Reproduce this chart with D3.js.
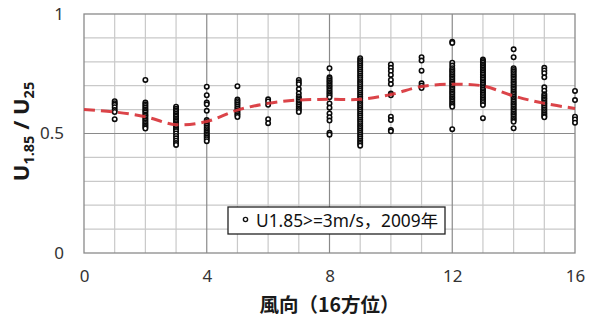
<!DOCTYPE html>
<html>
<head>
<meta charset="utf-8">
<script src="https://cdn.jsdelivr.net/npm/d3@7"></script>
<style>
  html, body { margin: 0; padding: 0; background: #fff; }
  svg { display: block; font-family: "Noto Sans", "Noto Sans CJK JP", sans-serif; }
</style>
</head>
<body>
<svg id="chart" width="600" height="326"></svg>
<script>
// ---- data ----
const windDirs = [1, 2, 3, 4, 5, 6, 7, 8, 9, 10, 11, 12, 13, 14, 15, 16];
const ratioSamples = [
  [0.635, 0.627, 0.62, 0.61, 0.598, 0.59, 0.56],
  [0.724, 0.63, 0.622, 0.615, 0.608, 0.60, 0.594, 0.588, 0.58, 0.574, 0.567, 0.56, 0.553, 0.546, 0.54, 0.533, 0.527, 0.521],
  [0.612, 0.604, 0.597, 0.59, 0.583, 0.576, 0.57, 0.563, 0.556, 0.55, 0.543, 0.537, 0.53, 0.523, 0.517, 0.51, 0.50, 0.49, 0.48, 0.47, 0.46, 0.452],
  [0.696, 0.66, 0.63, 0.622, 0.595, 0.556, 0.548, 0.54, 0.533, 0.525, 0.518, 0.51, 0.503, 0.496, 0.49, 0.483, 0.476, 0.468],
  [0.698, 0.642, 0.635, 0.628, 0.62, 0.612, 0.605, 0.597, 0.59, 0.583, 0.576, 0.569],
  [0.643, 0.634, 0.62, 0.56, 0.543],
  [0.724, 0.714, 0.706, 0.686, 0.668, 0.655, 0.648, 0.641, 0.634, 0.627, 0.62, 0.612, 0.605, 0.598, 0.59],
  [0.773, 0.735, 0.728, 0.721, 0.714, 0.707, 0.70, 0.693, 0.686, 0.679, 0.672, 0.665, 0.658, 0.652, 0.626, 0.608, 0.584, 0.568, 0.554, 0.503, 0.495],
  [0.815, 0.807, 0.799, 0.791, 0.783, 0.775, 0.767, 0.759, 0.751, 0.743, 0.735, 0.727, 0.719, 0.711, 0.703, 0.695, 0.687, 0.679, 0.671, 0.663, 0.655, 0.647, 0.639, 0.631, 0.623, 0.615, 0.607, 0.599, 0.591, 0.583, 0.575, 0.567, 0.559, 0.551, 0.543, 0.535, 0.527, 0.519, 0.511, 0.503, 0.495, 0.487, 0.479, 0.471, 0.463, 0.456, 0.449],
  [0.789, 0.775, 0.762, 0.745, 0.724, 0.707, 0.667, 0.66, 0.57, 0.556, 0.515, 0.509],
  [0.819, 0.805, 0.763, 0.71, 0.70, 0.69],
  [0.884, 0.879, 0.796, 0.784, 0.773, 0.766, 0.759, 0.752, 0.745, 0.738, 0.731, 0.724, 0.717, 0.71, 0.703, 0.696, 0.689, 0.682, 0.675, 0.668, 0.661, 0.654, 0.647, 0.64, 0.633, 0.626, 0.619, 0.612, 0.518],
  [0.81, 0.803, 0.796, 0.789, 0.782, 0.775, 0.768, 0.761, 0.754, 0.747, 0.74, 0.733, 0.726, 0.719, 0.712, 0.705, 0.698, 0.691, 0.684, 0.677, 0.67, 0.663, 0.656, 0.649, 0.642, 0.635, 0.628, 0.619, 0.564],
  [0.852, 0.819, 0.773, 0.766, 0.759, 0.752, 0.745, 0.738, 0.731, 0.724, 0.717, 0.71, 0.703, 0.696, 0.689, 0.682, 0.675, 0.668, 0.661, 0.654, 0.647, 0.64, 0.633, 0.626, 0.619, 0.612, 0.605, 0.598, 0.591, 0.584, 0.577, 0.57, 0.563, 0.556, 0.549, 0.522],
  [0.775, 0.764, 0.752, 0.735, 0.693, 0.679, 0.664, 0.657, 0.65, 0.643, 0.636, 0.629, 0.622, 0.615, 0.608, 0.60, 0.593, 0.586, 0.579, 0.572, 0.568],
  [0.678, 0.64, 0.57, 0.559, 0.545]
];
const trendDirs = [0, 1, 2, 3, 4, 5, 6, 7, 8, 9, 10, 11, 12, 13, 14, 15, 16];
const trendValues = [0.60, 0.59, 0.57, 0.537, 0.55, 0.598, 0.626, 0.64, 0.643, 0.643, 0.663, 0.697, 0.706, 0.699, 0.657, 0.626, 0.605];
const xTicks = [0, 4, 8, 12, 16];
const yTicks = [0, 0.5, 1];
const legendLabel = "U1.85>=3m/s，2009年";
const xTitle = "風向（16方位）";

// ---- layout ----
const svg = d3.select("#chart");
const m = { left: 84, right: 25, top: 14, bottom: 73 };
const W = 600, H = 326;
const x = d3.scaleLinear().domain([0, 16]).range([m.left, W - m.right]);
const y = d3.scaleLinear().domain([0, 1]).range([H - m.bottom, m.top]);

svg.append("rect").attr("width", W).attr("height", H).attr("fill", "#fff");

// minor grid
const g = svg.append("g");
g.selectAll("line.vx").data(d3.range(1, 16).filter(v => v % 4 !== 0)).join("line")
  .attr("x1", d => x(d)).attr("x2", d => x(d)).attr("y1", y(0)).attr("y2", y(1))
  .attr("stroke", "#c9c9c9").attr("stroke-width", 1.2);
g.selectAll("line.hy").data(d3.range(1, 10).filter(v => v !== 5).map(v => v / 10)).join("line")
  .attr("x1", x(0)).attr("x2", x(16)).attr("y1", d => y(d)).attr("y2", d => y(d))
  .attr("stroke", "#c9c9c9").attr("stroke-width", 1.2);
// major grid
g.selectAll("line.mx").data([4, 8, 12]).join("line")
  .attr("x1", d => x(d)).attr("x2", d => x(d)).attr("y1", y(0)).attr("y2", y(1))
  .attr("stroke", "#8a8a8a").attr("stroke-width", 1.2);
g.append("line").attr("x1", x(0)).attr("x2", x(16)).attr("y1", y(0.5)).attr("y2", y(0.5))
  .attr("stroke", "#8a8a8a").attr("stroke-width", 1.2);
g.append("rect").attr("x", x(0)).attr("y", y(1)).attr("width", x(16) - x(0)).attr("height", y(0) - y(1))
  .attr("fill", "none").attr("stroke", "#8a8a8a").attr("stroke-width", 1.3);

// axes (labels only)
const xAxis = svg.append("g").attr("transform", `translate(0,${y(0)})`)
  .call(d3.axisBottom(x).tickValues(xTicks).tickSize(0).tickPadding(17).tickFormat(d3.format("d")));
xAxis.select(".domain").remove();
xAxis.selectAll("text").attr("font-size", 17).attr("fill", "#333").attr("font-family", "'Noto Sans', sans-serif");

const yAxis = svg.append("g").attr("transform", `translate(${x(0)},0)`)
  .call(d3.axisLeft(y).tickValues(yTicks).tickSize(0).tickPadding(20).tickFormat(d => d === 0.5 ? "0.5" : d3.format("d")(d)));
yAxis.select(".domain").remove();
yAxis.selectAll("text").attr("font-size", 17).attr("fill", "#333").attr("font-family", "'Noto Sans', sans-serif");

// scatter points
const pts = [];
windDirs.forEach((d, i) => ratioSamples[i].forEach(v => pts.push({ d, v })));
svg.append("g").selectAll("circle").data(pts).join("circle")
  .attr("cx", p => x(p.d)).attr("cy", p => y(p.v)).attr("r", 2.2)
  .attr("fill", "#fff").attr("stroke", "#0a0a0a").attr("stroke-width", 1.6);

// trend line
const line = d3.line().x((d, i) => x(trendDirs[i])).y(d => y(d)).curve(d3.curveCatmullRom.alpha(0.5));
svg.append("path").datum(trendValues).attr("d", line)
  .attr("fill", "none").attr("stroke", "#d8343a").attr("stroke-width", 3)
  .attr("stroke-dasharray", "11,6").attr("opacity", 0.92);

// legend
const lg = svg.append("g");
lg.append("rect").attr("x", 228).attr("y", 207).attr("width", 217).attr("height", 27)
  .attr("fill", "#fff").attr("stroke", "#222").attr("stroke-width", 1.3);
lg.append("circle").attr("cx", 245.5).attr("cy", 219.5).attr("r", 2.1)
  .attr("fill", "#fff").attr("stroke", "#111").attr("stroke-width", 1.4);
lg.append("text").attr("x", 256).attr("y", 227).attr("font-size", 17.5).attr("fill", "#111")
  .attr("textLength", 182).attr("lengthAdjust", "spacingAndGlyphs")
  .text(legendLabel);

// x title
svg.append("text").attr("x", (x(0) + x(16)) / 2).attr("y", 312).attr("text-anchor", "middle")
  .attr("font-size", 19.5).attr("font-weight", "bold").attr("fill", "#1a1a1a")
  .attr("font-family", "'Noto Sans CJK JP', 'Noto Sans', sans-serif")
  .text(xTitle);

// y title with subscripts
const yt = svg.append("text").attr("transform", `translate(29,${(y(0) + y(1)) / 2 - 2}) rotate(-90)`)
  .attr("text-anchor", "middle").attr("font-size", 22).attr("font-weight", "bold").attr("fill", "#1a1a1a");
yt.append("tspan").text("U");
yt.append("tspan").attr("font-size", 14.5).attr("dy", 5).text("1.85");
yt.append("tspan").attr("dy", -5).text(" / U");
yt.append("tspan").attr("font-size", 14.5).attr("dy", 5).text("25");
</script>
</body>
</html>
